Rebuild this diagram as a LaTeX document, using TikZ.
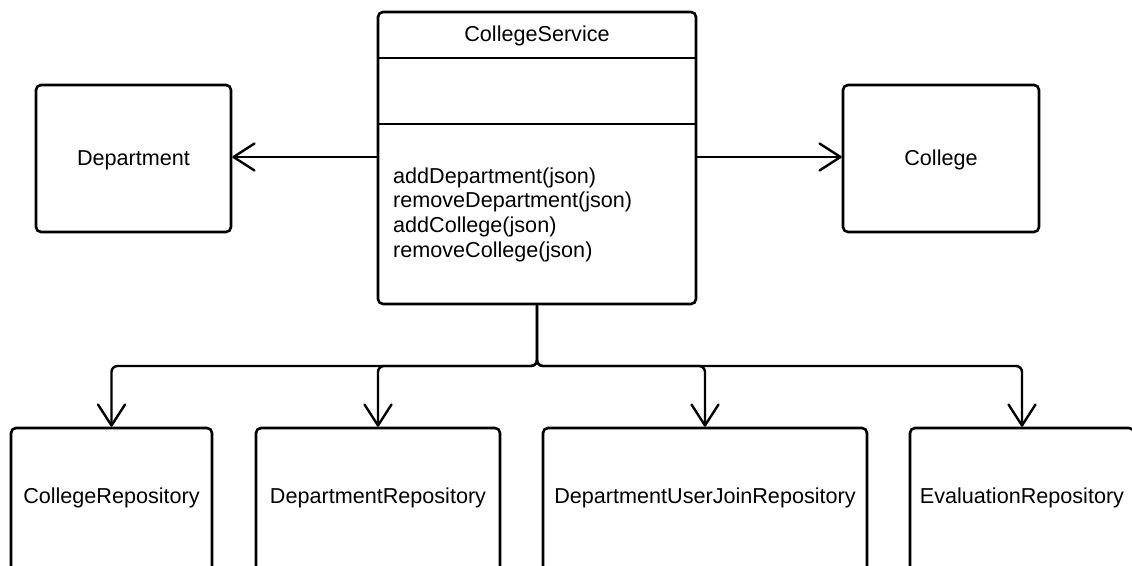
\documentclass[tikz,border=0pt]{standalone}
\usepackage{fontspec}
\setmainfont{Liberation Sans}
\usetikzlibrary{arrows.meta}

\begin{document}
\begin{tikzpicture}[x=1pt,y=-1pt,
  box/.style={draw, line width=2.6pt, rounded corners=5pt, inner sep=0pt},
  txt/.style={inner sep=0pt, anchor=base, font=\fontsize{21.6}{24.7}\selectfont},
  mtxt/.style={txt, anchor=base west},
  vee/.style={-{Straight Barb[length=21pt,width=27pt,line width=2.4pt,round]}},
  assoc/.style={vee, line width=1.5pt},
  dep/.style={vee, line width=2.4pt, rounded corners=6pt}]

\useasboundingbox (0,0) rectangle (1132,565);
\clip (0,0) rectangle (1132,565);

% central service class
\node[box, minimum width=318pt, minimum height=292pt] (cs) at (537,158) {};
\draw[line width=1.7pt] (cs.west |- 0,58) -- (cs.east |- 0,58);
\draw[line width=1.7pt] (cs.west |- 0,124) -- (cs.east |- 0,124);
\node[txt] (cst) at (537,41) {CollegeService};
\node[mtxt] (m1) at (393,183) {addDepartment(json)};
\node[mtxt] (m2) at (393,207.7) {removeDepartment(json)};
\node[mtxt] (m3) at (393,232.4) {addCollege(json)};
\node[mtxt] (m4) at (393,257.1) {removeCollege(json)};

% associated entities
\node[box, minimum width=195pt, minimum height=147pt] (dept) at (133.5,158.5) {};
\node[txt] (deptt) at (133.5,165) {Department};
\node[box, minimum width=196pt, minimum height=147pt] (coll) at (941,158.5) {};
\node[txt] (collt) at (941,165) {College};

\draw[assoc] (cs.west |- 0,157) -- (dept.east |- 0,157);
\draw[assoc] (cs.east |- 0,157) -- (coll.west |- 0,157);

% repositories
\node[box, minimum width=201pt, minimum height=160pt] (crep) at (111.5,508) {};
\node[txt] (crept) at (111.5,503) {CollegeRepository};
\node[box, minimum width=244pt, minimum height=160pt] (drep) at (378,508) {};
\node[txt] (drept) at (378,503) {DepartmentRepository};
\node[box, minimum width=324pt, minimum height=160pt] (durep) at (705,508) {};
\node[txt] (durept) at (705,503) {DepartmentUserJoinRepository};
\node[box, minimum width=224pt, minimum height=160pt] (erep) at (1022,508) {};
\node[txt] (erept) at (1022,503) {EvaluationRepository};

\coordinate (bus) at (0,366);
\draw[dep] (cs.south) |- (bus -| crep.north) -- (crep.north);
\draw[dep] (cs.south) |- (bus -| drep.north) -- (drep.north);
\draw[dep] (cs.south) |- (bus -| durep.north) -- (durep.north);
\draw[dep] (cs.south) |- (bus -| erep.north) -- (erep.north);
\end{tikzpicture}
\end{document}
